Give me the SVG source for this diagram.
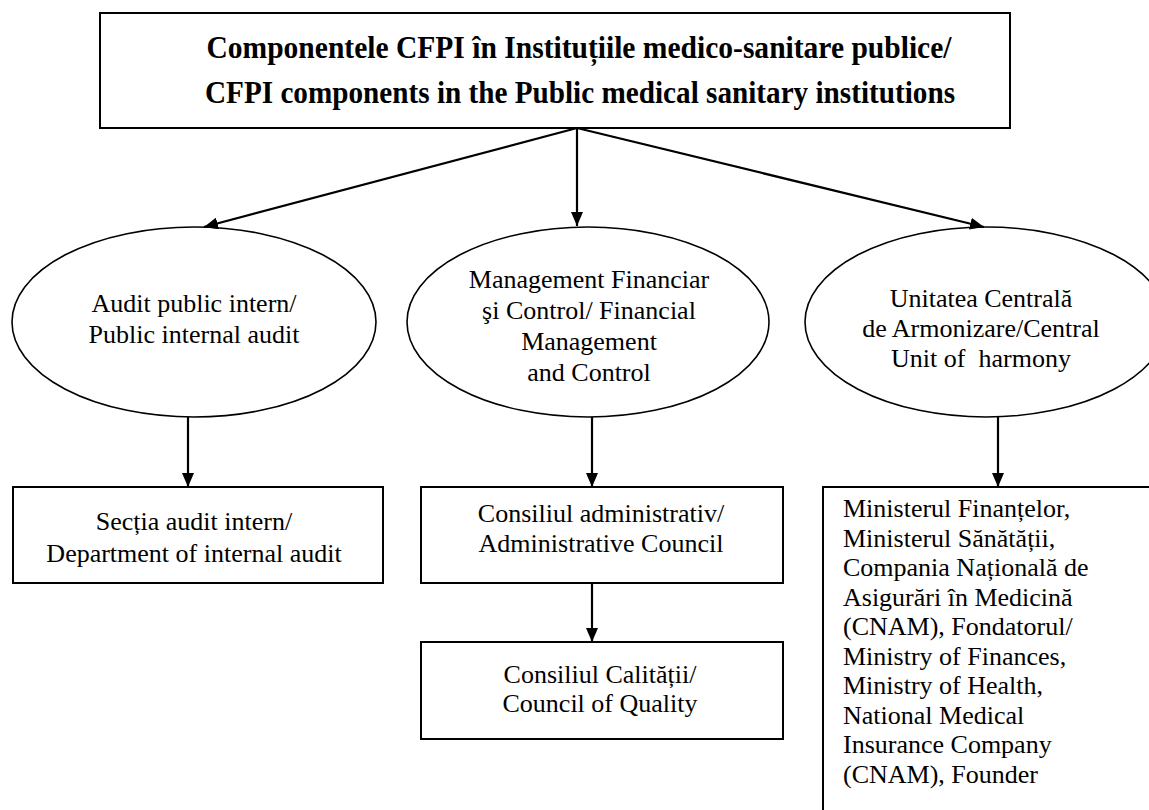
<svg xmlns="http://www.w3.org/2000/svg" width="1149" height="810" viewBox="0 0 1149 810" font-family="'Liberation Serif', 'Times New Roman', Times, 'DejaVu Serif', serif">
<style>
.box{fill:#fff;stroke:#000;stroke-width:2}
.ell{fill:#fff;stroke:#000;stroke-width:1.6}
text{font-family:'Liberation Serif','Times New Roman',Times,'DejaVu Serif',serif;fill:#000}
.t{font-size:26px;text-anchor:middle}
.tl{font-size:26px}
.title{font-size:32px;font-weight:bold;text-anchor:middle}
.c{stroke:#000;stroke-width:2.2;fill:none;marker-end:url(#arr)}
</style>
<defs>
<marker id="arr" viewBox="0 0 14 12" refX="14" refY="6" markerWidth="14" markerHeight="12" markerUnits="userSpaceOnUse" orient="auto">
<path d="M0,0 L14,6 L0,12 Z" fill="#000"/>
</marker>
</defs>
<rect width="1149" height="810" fill="#fff"/>
<g id="top">
<rect class="box" x="100" y="13" width="910" height="115"/>
<text class="title" x="579" y="58" textLength="745" lengthAdjust="spacingAndGlyphs">Componentele CFPI în Instituțiile medico-sanitare publice/</text>
<text class="title" x="580" y="103" textLength="750" lengthAdjust="spacingAndGlyphs">CFPI components in the Public medical sanitary institutions</text>
</g>
<g id="audit">
<ellipse class="ell" cx="194" cy="322" rx="182" ry="95"/>
<text class="t" x="194" y="312">Audit public intern/</text>
<text class="t" x="194" y="343">Public internal audit</text>
</g>
<g id="mfc">
<ellipse class="ell" cx="588" cy="322" rx="181" ry="95"/>
<text class="t" x="589" y="288">Management Financiar</text>
<text class="t" x="589" y="319">şi Control/ Financial</text>
<text class="t" x="589" y="350">Management</text>
<text class="t" x="589" y="381">and Control</text>
</g>
<g id="uca">
<ellipse class="ell" cx="986" cy="322" rx="181" ry="95"/>
<text class="t" x="981" y="307">Unitatea Centrală</text>
<text class="t" x="981" y="337">de Armonizare/Central</text>
<text class="t" x="981" y="367" xml:space="preserve">Unit of  harmony</text>
</g>
<g id="sectia">
<rect class="box" x="13" y="487" width="370" height="96"/>
<text class="t" x="194" y="530">Secția audit intern/</text>
<text class="t" x="194" y="562">Department of internal audit</text>
</g>
<g id="consiliul-admin">
<rect class="box" x="421" y="487" width="362" height="96"/>
<text class="t" x="601" y="522">Consiliul administrativ/</text>
<text class="t" x="601" y="552">Administrative Council</text>
</g>
<g id="consiliul-calitatii">
<rect class="box" x="421" y="642" width="362" height="97"/>
<text class="t" x="600" y="683">Consiliul Calității/</text>
<text class="t" x="600" y="712">Council of Quality</text>
</g>
<g id="ministries">
<rect class="box" x="823" y="487" width="340" height="340"/>
<text class="tl" x="843" y="517">Ministerul Finanțelor,</text>
<text class="tl" x="843" y="546.5">Ministerul Sănătății,</text>
<text class="tl" x="843" y="576">Compania Națională de</text>
<text class="tl" x="843" y="605.5">Asigurări în Medicină</text>
<text class="tl" x="843" y="635">(CNAM), Fondatorul/</text>
<text class="tl" x="843" y="664.5">Ministry of Finances,</text>
<text class="tl" x="843" y="694">Ministry of Health,</text>
<text class="tl" x="843" y="723.5">National Medical</text>
<text class="tl" x="843" y="753">Insurance Company</text>
<text class="tl" x="843" y="782.5">(CNAM), Founder</text>
</g>
<g id="connectors">
<line class="c" x1="577" y1="128" x2="204" y2="227"/>
<line class="c" x1="577" y1="128" x2="577" y2="226"/>
<line class="c" x1="577" y1="128" x2="984" y2="227"/>
<line class="c" x1="188" y1="417" x2="188" y2="487"/>
<line class="c" x1="592" y1="417" x2="592" y2="487"/>
<line class="c" x1="592" y1="583" x2="592" y2="642"/>
<line class="c" x1="998" y1="417" x2="998" y2="487"/>
</g>
</svg>
